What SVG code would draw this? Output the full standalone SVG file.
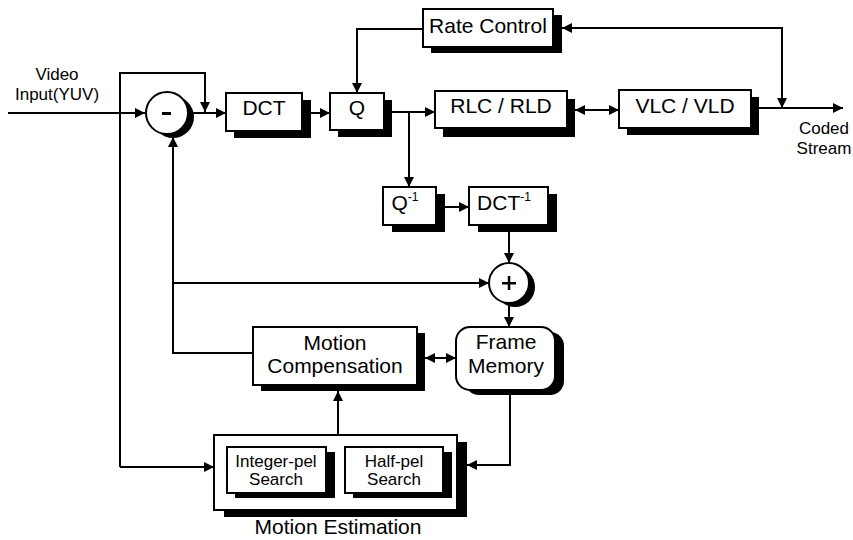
<svg xmlns="http://www.w3.org/2000/svg" width="853" height="540" viewBox="0 0 853 540">
<style>
.box{fill:#fff;stroke:#000;stroke-width:2}
.sh{fill:#000}
.t{font-family:"Liberation Sans",Arial,sans-serif;font-size:21px;fill:#000;text-anchor:middle}
.s{font-family:"Liberation Sans",Arial,sans-serif;font-size:17px;fill:#000;text-anchor:middle}
.c{fill:none;stroke:#000;stroke-width:2}
</style>
<defs>
<marker id="a" viewBox="0 0 10 10" refX="10" refY="5" markerWidth="5" markerHeight="5" orient="auto-start-reverse" markerUnits="strokeWidth">
<path d="M0,0 L10,5 L0,10 z" fill="#000"/>
</marker>
</defs>
<rect width="853" height="540" fill="#fff"/>

<g id="connectors">
<path class="c" d="M8,113 L145,113" marker-end="url(#a)"/>
<path class="c" d="M120,467 L120,73 L205,73 L205,112" marker-end="url(#a)"/>
<path class="c" d="M120,467 L214,467" marker-end="url(#a)"/>
<path class="c" d="M192,113 L226,113" marker-end="url(#a)"/>
<path class="c" d="M311,113 L330,113" marker-end="url(#a)"/>
<path class="c" d="M423,29 L357,29 L357,93" marker-end="url(#a)"/>
<path class="c" d="M392,112 L435,112" marker-end="url(#a)"/>
<path class="c" d="M409,112 L409,187" marker-end="url(#a)"/>
<path class="c" d="M575,110 L619,110" marker-start="url(#a)" marker-end="url(#a)"/>
<path class="c" d="M759,108 L843,108" marker-end="url(#a)"/>
<path class="c" d="M562,28 L782,28 L782,108" marker-start="url(#a)" marker-end="url(#a)"/>
<path class="c" d="M445,207 L469,207" marker-end="url(#a)"/>
<path class="c" d="M509,232 L509,263" marker-end="url(#a)"/>
<path class="c" d="M173,283 L489,283" marker-end="url(#a)"/>
<path class="c" d="M509,306 L509,327" marker-end="url(#a)"/>
<path class="c" d="M253,353 L173,353 L173,137" marker-end="url(#a)"/>
<path class="c" d="M425,358 L456,358" marker-start="url(#a)" marker-end="url(#a)"/>
<path class="c" d="M338,435 L338,391" marker-end="url(#a)"/>
<path class="c" d="M510,395 L510,465 L467,465" marker-end="url(#a)"/>
</g>

<g id="input-label">
<text class="s" x="57" y="80">Video</text>
<text class="s" x="57" y="100">Input(YUV)</text>
</g>

<g id="output-label">
<text class="s" x="824" y="134">Coded</text>
<text class="s" x="824" y="154">Stream</text>
</g>

<g id="minus">
<circle class="sh" cx="173" cy="117" r="21"/>
<circle class="box" cx="167" cy="113" r="21"/>
<rect x="162" y="112" width="9" height="3" fill="#000"/>
</g>

<g id="dct">
<rect class="sh" x="234" y="100" width="77" height="38"/>
<rect class="box" x="226" y="93" width="76" height="38"/>
<text class="t" x="264" y="115">DCT</text>
</g>

<g id="q">
<rect class="sh" x="338" y="100" width="54" height="37"/>
<rect class="box" x="330" y="93" width="54" height="37"/>
<text class="t" x="357" y="115">Q</text>
</g>

<g id="rate-control">
<rect class="sh" x="431" y="15" width="131" height="38"/>
<rect class="box" x="423" y="9" width="130" height="38"/>
<text class="t" x="488" y="33">Rate Control</text>
</g>

<g id="rlc">
<rect class="sh" x="443" y="99" width="132" height="38"/>
<rect class="box" x="435" y="91" width="132" height="37"/>
<text class="t" x="501" y="113">RLC / RLD</text>
</g>

<g id="vlc">
<rect class="sh" x="627" y="97" width="132" height="38"/>
<rect class="box" x="619" y="90" width="132" height="38"/>
<text class="t" x="685" y="113">VLC / VLD</text>
</g>

<g id="iq">
<rect class="sh" x="392" y="194" width="53" height="38"/>
<rect class="box" x="383" y="187" width="53" height="38"/>
<text class="t" x="405" y="210">Q<tspan font-size="12" dy="-9">-1</tspan></text>
</g>

<g id="idct">
<rect class="sh" x="478" y="194" width="79" height="38"/>
<rect class="box" x="469" y="187" width="79" height="38"/>
<text class="t" x="504" y="210">DCT<tspan font-size="12" dy="-9">-1</tspan></text>
</g>

<g id="plus">
<circle class="sh" cx="515" cy="287" r="20"/>
<circle class="box" cx="509" cy="283" r="20"/>
<rect x="502" y="282" width="14" height="2.5" fill="#000"/>
<rect x="507.8" y="276" width="2.5" height="14" fill="#000"/>
</g>

<g id="motion-compensation">
<rect class="sh" x="261" y="333" width="164" height="58"/>
<rect class="box" x="253" y="327" width="164" height="58"/>
<text class="t" x="335" y="350">Motion</text>
<text class="t" x="335" y="373">Compensation</text>
</g>

<g id="frame-memory">
<rect class="sh" x="465" y="332" width="99" height="63" rx="14"/>
<rect class="box" x="456" y="327" width="99" height="63" rx="14"/>
<text class="t" x="506" y="349">Frame</text>
<text class="t" x="506" y="373">Memory</text>
</g>

<g id="motion-estimation">
<rect class="sh" x="224" y="442" width="243" height="75"/>
<rect class="box" x="214" y="435" width="243" height="75"/>
<rect class="sh" x="235" y="452" width="100" height="46"/>
<rect class="box" x="227" y="447" width="99" height="46"/>
<text class="s" x="276" y="467">Integer-pel</text>
<text class="s" x="276" y="485">Search</text>
<rect class="sh" x="353" y="452" width="99" height="46"/>
<rect class="box" x="345" y="447" width="98" height="46"/>
<text class="s" x="394" y="467">Half-pel</text>
<text class="s" x="394" y="485">Search</text>
<text class="t" x="338" y="534">Motion Estimation</text>
</g>
</svg>
